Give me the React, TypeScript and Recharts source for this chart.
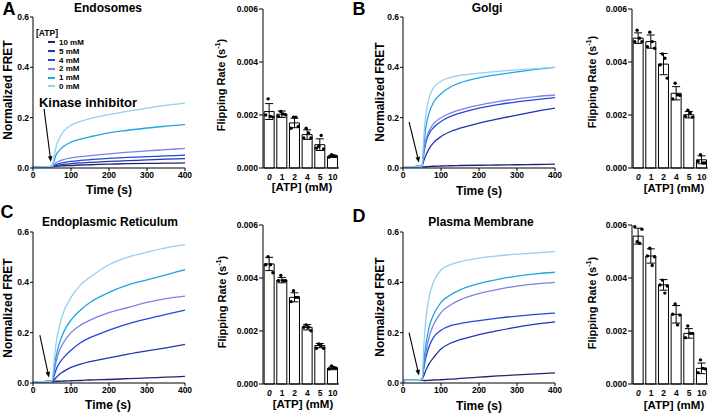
import React from "react"
import { LineChart, Line, XAxis, YAxis, Legend, ReferenceLine, ComposedChart, Bar, ErrorBar } from "recharts"

const FONT = '"Liberation Sans", Arial, sans-serif'

// sample times (s) for the FRET traces
const TIMES = [0, 20, 40, 50, 55, 60, 70, 80, 100, 125, 150, 200, 250, 300, 350, 400]
const TIME_TICKS = [0, 100, 200, 300, 400]
const FRET_TICKS = [0, 0.2, 0.4, 0.6]

const ATP_LEVELS = ["10 mM", "5 mM", "4 mM", "2 mM", "1 mM", "0 mM"]
const ATP_COLORS = ["#1b2677", "#2035b0", "#2248d8", "#7c82e6", "#22a4de", "#92d0f1"]

// Endosomes
const ENDO_10 = [0.003, 0.004, 0.005, 0.006, 0.006, 0.007, 0.008, 0.009, 0.01, 0.012, 0.013, 0.015, 0.017, 0.018, 0.019, 0.02]
const ENDO_5 = [0.003, 0.004, 0.005, 0.006, 0.007, 0.009, 0.012, 0.014, 0.017, 0.02, 0.022, 0.026, 0.029, 0.032, 0.035, 0.037]
const ENDO_4 = [0.003, 0.004, 0.005, 0.006, 0.009, 0.013, 0.018, 0.021, 0.026, 0.03, 0.033, 0.038, 0.042, 0.045, 0.048, 0.051]
const ENDO_2 = [0.003, 0.004, 0.005, 0.006, 0.012, 0.02, 0.028, 0.033, 0.04, 0.045, 0.049, 0.056, 0.063, 0.068, 0.073, 0.078]
const ENDO_1 = [0.003, 0.004, 0.005, 0.006, 0.025, 0.05, 0.07, 0.085, 0.103, 0.115, 0.124, 0.14, 0.15, 0.159, 0.166, 0.172]
const ENDO_0 = [0.003, 0.004, 0.005, 0.006, 0.04, 0.08, 0.12, 0.145, 0.17, 0.185, 0.196, 0.212, 0.226, 0.238, 0.249, 0.258]

// Golgi
const GOLGI_10 = [0.005, 0.005, 0.006, 0.006, 0.004, 0.005, 0.006, 0.007, 0.008, 0.009, 0.01, 0.011, 0.012, 0.013, 0.014, 0.015]
const GOLGI_5 = [0.005, 0.005, 0.006, 0.008, 0.03, 0.05, 0.08, 0.1, 0.125, 0.145, 0.158, 0.178, 0.195, 0.21, 0.225, 0.238]
const GOLGI_4 = [0.005, 0.005, 0.006, 0.008, 0.06, 0.1, 0.14, 0.16, 0.185, 0.205, 0.218, 0.238, 0.252, 0.263, 0.272, 0.28]
const GOLGI_2 = [0.005, 0.005, 0.006, 0.008, 0.065, 0.11, 0.152, 0.175, 0.2, 0.218, 0.231, 0.25, 0.264, 0.275, 0.284, 0.29]
const GOLGI_1 = [0.005, 0.005, 0.006, 0.008, 0.09, 0.16, 0.225, 0.26, 0.295, 0.322, 0.338, 0.358, 0.371, 0.382, 0.392, 0.4]
const GOLGI_0 = [0.005, 0.005, 0.006, 0.008, 0.13, 0.21, 0.285, 0.318, 0.345, 0.36, 0.368, 0.377, 0.384, 0.39, 0.395, 0.4]

// Endoplasmic reticulum
const ER_10 = [0.004, 0.005, 0.006, 0.006, 0.006, 0.007, 0.007, 0.008, 0.009, 0.01, 0.012, 0.014, 0.017, 0.02, 0.023, 0.026]
const ER_5 = [0.004, 0.005, 0.006, 0.008, 0.012, 0.02, 0.035, 0.045, 0.062, 0.075, 0.085, 0.1, 0.115, 0.128, 0.14, 0.153]
const ER_4 = [0.004, 0.005, 0.006, 0.008, 0.025, 0.05, 0.08, 0.1, 0.13, 0.16, 0.18, 0.21, 0.235, 0.255, 0.273, 0.29]
const ER_2 = [0.004, 0.005, 0.006, 0.008, 0.04, 0.08, 0.13, 0.16, 0.2, 0.23, 0.25, 0.28, 0.3, 0.32, 0.335, 0.345]
const ER_1 = [0.004, 0.005, 0.006, 0.008, 0.05, 0.1, 0.16, 0.2, 0.25, 0.29, 0.32, 0.36, 0.39, 0.41, 0.43, 0.45]
const ER_0 = [0.004, 0.005, 0.006, 0.008, 0.08, 0.15, 0.23, 0.28, 0.34, 0.39, 0.42, 0.47, 0.5, 0.52, 0.537, 0.55]

// Plasma membrane
const PM_10 = [0.01, 0.011, 0.012, 0.012, 0.01, 0.01, 0.011, 0.012, 0.013, 0.015, 0.018, 0.023, 0.028, 0.032, 0.036, 0.04]
const PM_5 = [0.01, 0.011, 0.012, 0.015, 0.03, 0.05, 0.08, 0.1, 0.135, 0.158, 0.172, 0.192, 0.208, 0.222, 0.234, 0.243]
const PM_4 = [0.01, 0.011, 0.012, 0.015, 0.06, 0.1, 0.15, 0.18, 0.21, 0.228, 0.236, 0.248, 0.258, 0.266, 0.273, 0.278]
const PM_2 = [0.01, 0.011, 0.012, 0.015, 0.07, 0.12, 0.19, 0.23, 0.28, 0.31, 0.33, 0.355, 0.372, 0.385, 0.394, 0.4]
const PM_1 = [0.01, 0.011, 0.012, 0.015, 0.09, 0.15, 0.23, 0.27, 0.32, 0.35, 0.37, 0.395, 0.412, 0.425, 0.434, 0.44]
const PM_0 = [0.01, 0.011, 0.012, 0.015, 0.15, 0.25, 0.35, 0.4, 0.45, 0.47, 0.482, 0.496, 0.505, 0.512, 0.517, 0.522]

// flipping rates
const BAR_CATS = ["0", "1", "2", "4", "5", "10"]
const RATE_TICKS = [0, 0.002, 0.004, 0.006]

const ENDO_RATE = [0.00213, 0.00203, 0.0017, 0.00126, 0.00088, 0.00044]
const ENDO_SD = [0.0003, 0.00012, 0.00018, 0.00018, 0.00022, 0.00004]
const ENDO_DOTS = [
    [0.0020, 0.00261, 0.00195, 0.00192],
    [0.00195, 0.00213, 0.00204, 0.00201],
    [0.0015, 0.00192, 0.00192, 0.00157],
    [0.00113, 0.0015, 0.00132, 0.00113],
    [0.00075, 0.00082, 0.00123, 0.00072],
    [0.00041, 0.0005, 0.00046, 0.00044],
]

const GOLGI_RATE = [0.0049, 0.00477, 0.00392, 0.00282, 0.00201, 0.00031]
const GOLGI_SD = [0.0002, 0.00025, 0.0004, 0.00025, 0.00012, 0.00015]
const GOLGI_DOTS = [
    [0.00477, 0.0052, 0.0049, 0.00477],
    [0.00458, 0.00512, 0.00477, 0.00452],
    [0.00389, 0.0043, 0.00414, 0.00339],
    [0.00261, 0.0032, 0.00276, 0.00274],
    [0.00195, 0.00218, 0.00208, 0.00192],
    [0.00025, 0.0005, 0.00019, 0.00019],
]

const ER_RATE = [0.00453, 0.00392, 0.00327, 0.00214, 0.00145, 0.00059]
const ER_SD = [0.00025, 0.0001, 0.00017, 0.0001, 0.00008, 0.00005]
const ER_DOTS = [
    [0.0045, 0.0048, 0.0045, 0.0042],
    [0.0039, 0.0041, 0.0039, 0.0039],
    [0.00311, 0.00352, 0.00327, 0.00327],
    [0.00214, 0.00223, 0.00214, 0.00201],
    [0.00135, 0.00151, 0.00145, 0.00135],
    [0.00057, 0.00068, 0.00062, 0.00059],
]

const PM_RATE = [0.00558, 0.00483, 0.00374, 0.00263, 0.00191, 0.00059]
const PM_SD = [0.0003, 0.00027, 0.0002, 0.00033, 0.00018, 0.0002]
const PM_DOTS = [
    [0.00594, 0.00537, 0.00531, 0.00584],
    [0.00483, 0.00512, 0.00447, 0.0048],
    [0.00374, 0.00392, 0.00343, 0.0037],
    [0.00263, 0.00302, 0.00223, 0.0026],
    [0.00175, 0.00219, 0.00191, 0.00191],
    [0.00043, 0.00091, 0.00059, 0.00057],
]

const DOT_SHIFT = [-3.6, -1.2, 1.2, 3.6]

const tickFont = { fill: "#000", fontSize: 8.5, fontWeight: 700, fontFamily: FONT }

// arrow for the kinase inhibitor annotation
// eslint-disable-next-line @typescript-eslint/no-explicit-any
function ArrowShape(props: any) {
    const { x1, y1, x2, y2 } = props
    const ang = Math.atan2(y2 - y1, x2 - x1)
    const len = 5.5
    const w = 2.3
    const bx = x2 - len * Math.cos(ang)
    const by = y2 - len * Math.sin(ang)
    const px = -Math.sin(ang) * w
    const py = Math.cos(ang) * w
    return (
        <g>
            <line x1={x1} y1={y1} x2={bx} y2={by} stroke="#000" strokeWidth={1.1} />
            <polygon points={`${x2},${y2} ${bx + px},${by + py} ${bx - px},${by - py}`} fill="#000" />
        </g>
    )
}

// legend keeps the 10 mM -> 0 mM order of the figure
// eslint-disable-next-line @typescript-eslint/no-explicit-any
function AtpLegend({ payload }: any) {
    // eslint-disable-next-line @typescript-eslint/no-explicit-any
    const items = [...(payload || [])].sort((a: any, b: any) => ATP_LEVELS.indexOf(a.value) - ATP_LEVELS.indexOf(b.value))
    return (
        <div style={{ fontFamily: FONT, fontWeight: 700, color: "#000" }}>
            <div style={{ fontSize: 8.5, lineHeight: "10px" }}>[ATP]</div>
            {/* eslint-disable-next-line @typescript-eslint/no-explicit-any */}
            {items.map((p: any) => (
                <div key={p.value} style={{ display: "flex", alignItems: "center", height: 8.8, fontSize: 8 }}>
                    <span style={{ display: "inline-block", marginLeft: 12, width: 7, height: 2, background: p.color, marginRight: 4 }} />
                    <span>{p.value}</span>
                </div>
            ))}
        </div>
    )
}

// eslint-disable-next-line @typescript-eslint/no-explicit-any
function CatTick({ x, y, payload }: any) {
    return (
        <text x={x} y={y} dy="0.71em" textAnchor="middle" {...tickFont}
            fontStyle={payload.value === "0" ? "italic" : "normal"}>
            {payload.value}
        </text>
    )
}

function traceRows(series: number[][]) {
    return TIMES.map((t, i) => {
        const row: Record<string, number> = { t }
        series.forEach((s, k) => { row[`s${k}`] = s[i] })
        return row
    })
}

interface TraceProps {
    left: number
    top: number
    series: number[][]
    arrow: { x: number; y: number }[]
    legend?: boolean
}

function TracePanel({ left, top, series, arrow, legend }: TraceProps) {
    return (
        <div style={{ position: "absolute", left, top }}>
            <LineChart width={193} height={194} data={traceRows(series)} margin={{ top: 17, right: 8, left: 0, bottom: 0 }}>
                <XAxis dataKey="t" type="number" domain={[0, 400]} ticks={TIME_TICKS} interval={0} height={26}
                    tickSize={3} tickMargin={1} stroke="#000" tick={tickFont} />
                <YAxis type="number" domain={[0, 0.6]} ticks={FRET_TICKS} interval={0} width={33}
                    tickSize={3} tickMargin={1} stroke="#000" tick={tickFont} tickFormatter={(v: number) => v.toFixed(1)} />
                {ATP_LEVELS.map((name, k) => (
                    <Line key={name} type="monotone" dataKey={`s${k}`} name={name} stroke={ATP_COLORS[k]}
                        strokeWidth={1.3} dot={false} activeDot={false} isAnimationActive={false} />
                ))}
                <ReferenceLine segment={arrow} shape={ArrowShape} />
                {legend && (
                    <Legend layout="vertical" align="center" verticalAlign="middle" content={AtpLegend}
                        wrapperStyle={{ left: 36, top: 28, width: 60 }} />
                )}
            </LineChart>
        </div>
    )
}

interface RateProps {
    left: number
    top: number
    marginTop: number
    height: number
    rates: number[]
    sds: number[]
    dots: number[][]
}

function RatePanel({ left, top, marginTop, height, rates, sds, dots }: RateProps) {
    const rows = BAR_CATS.map((c, i) => ({
        atp: c, rate: rates[i], sd: sds[i],
        d0: dots[i][0], d1: dots[i][1], d2: dots[i][2], d3: dots[i][3],
    }))
    return (
        <div style={{ position: "absolute", left, top }}>
            <ComposedChart width={136} height={height} data={rows} margin={{ top: marginTop, right: 4, left: 0, bottom: 0 }}
                barCategoryGap="9%">
                <XAxis dataKey="atp" type="category" interval={0} height={14} tickSize={4} tickMargin={2}
                    tickLine={false} stroke="#000" tick={<CatTick />} />
                <YAxis type="number" domain={[0, 0.006]} ticks={RATE_TICKS} interval={0} width={56}
                    tickSize={4} tickMargin={1} stroke="#000" tick={tickFont} tickFormatter={(v: number) => v.toFixed(3)} />
                <Bar dataKey="rate" fill="#fff" stroke="#000" strokeWidth={1} isAnimationActive={false}>
                    <ErrorBar dataKey="sd" width={4} stroke="#000" strokeWidth={1} direction="y" />
                </Bar>
                {[0, 1, 2, 3].map(k => (
                    <Line key={k} dataKey={`d${k}`} stroke="none" legendType="none" activeDot={false} isAnimationActive={false}
                        // eslint-disable-next-line @typescript-eslint/no-explicit-any
                        dot={(p: any) => <circle key={`d${k}-${p.index}`} cx={p.cx + DOT_SHIFT[k]} cy={p.cy} r={1.7} fill="#000" />} />
                ))}
            </ComposedChart>
        </div>
    )
}

function Txt({ x, y, size = 12, rotate = false, children }: {
    x: number; y: number; size?: number; rotate?: boolean; children: React.ReactNode
}) {
    return (
        <div style={{
            position: "absolute", left: x, top: y, fontSize: size, fontWeight: 700, lineHeight: 1,
            whiteSpace: "nowrap",
            transform: `translate(-50%, -50%)${rotate ? " rotate(-90deg)" : ""}`,
        }}>
            {children}
        </div>
    )
}

const RateLabel = () => <>Flipping Rate (s<sup style={{ fontSize: "0.65em", lineHeight: 0 }}>-1</sup>)</>

export default function App() {
    return (
        <div style={{ position: "absolute", left: 0, top: 0, width: 713, height: 414, background: "#fff", fontFamily: FONT, color: "#000", overflow: "hidden" }}>
            <TracePanel left={0} top={0} series={[ENDO_10, ENDO_5, ENDO_4, ENDO_2, ENDO_1, ENDO_0]}
                arrow={[{ x: 29, y: 0.235 }, { x: 47, y: 0.025 }]} legend />
            <TracePanel left={370} top={0} series={[GOLGI_10, GOLGI_5, GOLGI_4, GOLGI_2, GOLGI_1, GOLGI_0]}
                arrow={[{ x: 16, y: 0.183 }, { x: 42, y: 0.022 }]} />
            <TracePanel left={0} top={215} series={[ER_10, ER_5, ER_4, ER_2, ER_1, ER_0]}
                arrow={[{ x: 18, y: 0.19 }, { x: 42, y: 0.022 }]} />
            <TracePanel left={370} top={215} series={[PM_10, PM_5, PM_4, PM_2, PM_1, PM_0]}
                arrow={[{ x: 16, y: 0.2 }, { x: 42, y: 0.03 }]} />

            <RatePanel left={207} top={0} marginTop={9} height={182} rates={ENDO_RATE} sds={ENDO_SD} dots={ENDO_DOTS} />
            <RatePanel left={576} top={0} marginTop={9} height={182} rates={GOLGI_RATE} sds={GOLGI_SD} dots={GOLGI_DOTS} />
            <RatePanel left={207} top={215} marginTop={10} height={183} rates={ER_RATE} sds={ER_SD} dots={ER_DOTS} />
            <RatePanel left={576} top={215} marginTop={10} height={183} rates={PM_RATE} sds={PM_SD} dots={PM_DOTS} />

            <Txt x={9} y={9} size={18}>A</Txt>
            <Txt x={359} y={9} size={18}>B</Txt>
            <Txt x={7} y={212} size={18}>C</Txt>
            <Txt x={359} y={216} size={18}>D</Txt>

            <Txt x={108} y={8}>Endosomes</Txt>
            <Txt x={487} y={8}>Golgi</Txt>
            <Txt x={110} y={222}>Endoplasmic Reticulum</Txt>
            <Txt x={481} y={222}>Plasma Membrane</Txt>

            <Txt x={8} y={90} rotate>Normalized FRET</Txt>
            <Txt x={380} y={92} rotate>Normalized FRET</Txt>
            <Txt x={8} y={308} rotate>Normalized FRET</Txt>
            <Txt x={380} y={307} rotate>Normalized FRET</Txt>

            <Txt x={109} y={190}>Time (s)</Txt>
            <Txt x={479} y={191}>Time (s)</Txt>
            <Txt x={108} y={405}>Time (s)</Txt>
            <Txt x={479} y={406}>Time (s)</Txt>

            <Txt x={221} y={85} size={11} rotate><RateLabel /></Txt>
            <Txt x={592} y={82} size={11} rotate><RateLabel /></Txt>
            <Txt x={222} y={302} size={11} rotate><RateLabel /></Txt>
            <Txt x={592} y={303} size={11} rotate><RateLabel /></Txt>

            <Txt x={302} y={188} size={11.5}>[ATP] (mM)</Txt>
            <Txt x={674} y={189} size={11.5}>[ATP] (mM)</Txt>
            <Txt x={303} y={405} size={11.5}>[ATP] (mM)</Txt>
            <Txt x={674} y={406} size={11.5}>[ATP] (mM)</Txt>

            <Txt x={88} y={102} size={13}>Kinase inhibitor</Txt>
        </div>
    )
}
